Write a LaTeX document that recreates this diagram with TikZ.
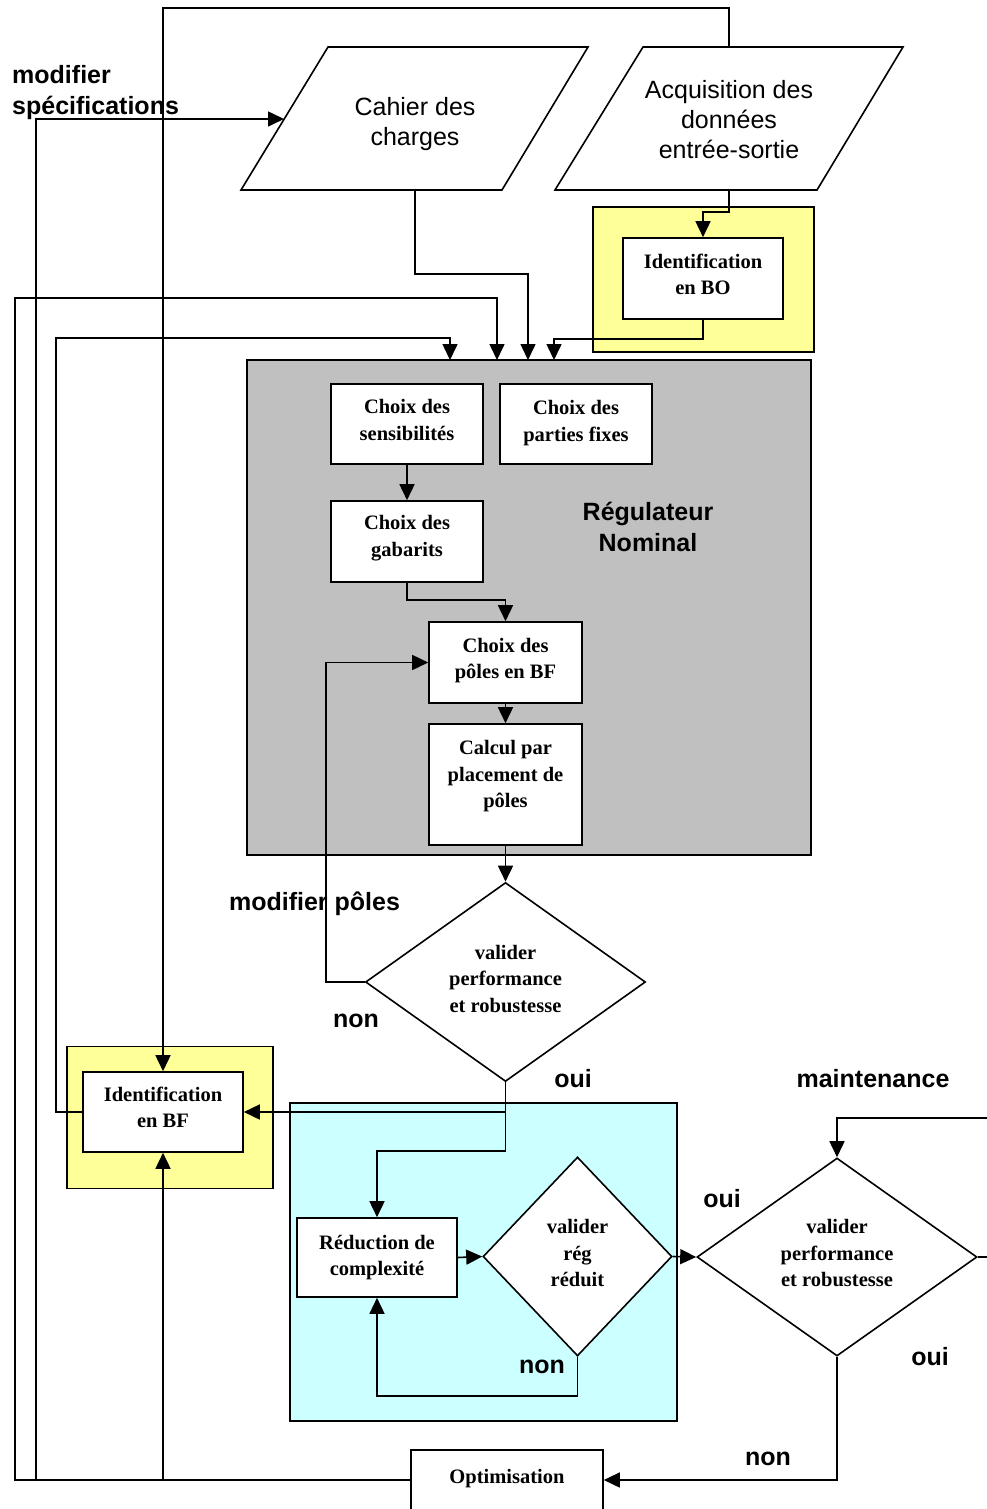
\documentclass[tikz,border=0pt]{standalone}
\usepackage{fontspec}
\setmainfont{Liberation Serif}
\setsansfont{Liberation Sans}
\usetikzlibrary{arrows.meta,shapes.geometric}

\definecolor{regGray}{RGB}{192,192,192}
\definecolor{idYellow}{RGB}{255,255,153}
\definecolor{redCyan}{RGB}{204,255,255}

\tikzset{
  ln/.style={line width=1.6pt, line join=miter},
  arr/.style={ln, -{Triangle[length=16pt,width=15pt]}},
  zone/.style={draw, line width=1.6pt, rectangle, inner sep=0pt},
  box/.style={draw, line width=1.6pt, fill=white, rectangle, inner sep=0pt},
  diam/.style={draw, line width=1.6pt, fill=white, diamond, inner sep=0pt, aspect=1},
  dtext/.style={align=center, inner sep=0pt, font=\bfseries\fontsize{20.5}{26.5}\selectfont},
  ptext/.style={align=center, inner sep=0pt, font=\sffamily\fontsize{25}{30}\selectfont},
  lab/.style={inner sep=0pt, font=\sffamily\bfseries\fontsize{25}{31}\selectfont},
}

\begin{document}
\begin{tikzpicture}[x=1pt,y=-1pt]
\useasboundingbox (0,0) rectangle (986,1509);

% grouping zones
\node[zone, fill=regGray, minimum width=564, minimum height=495] (reg) at (529,607.5) {};
\node[zone, fill=idYellow, minimum width=221, minimum height=145] (zbo) at (703.5,279.5) {};
\node[zone, fill=idYellow, minimum width=206, minimum height=142] (zbf) at (170,1117.5) {};
\node[zone, fill=redCyan, minimum width=387, minimum height=318] (zred) at (483.5,1262) {};

\node[lab, anchor=north, align=center] (lreg) at (648,502) {Régulateur\\Nominal};

% input documents
\draw[ln, fill=white] (241,190) -- (328,47) -- (588,47) -- (502,190) -- cycle;
\node[ptext, anchor=north] (cahier) at (415,97) {Cahier des\\charges};
\draw[ln, fill=white] (555,190) -- (643,47) -- (903,47) -- (817,190) -- cycle;
\node[ptext, anchor=north] (acq) at (729,80) {Acquisition des\\données\\entrée-sortie};
\coordinate (cahB) at (415,190);
\coordinate (cahL) at (284,119);
\coordinate (acqB) at (729,190);
\coordinate (acqT) at (729,47);

% entries on top of the nominal controller block
\coordinate (inA) at (450,360);
\coordinate (inB) at (497,360);
\coordinate (inC) at (528,360);
\coordinate (inD) at (554,360);

% steps
\node[box, minimum width=160, minimum height=81,
  label={[dtext,yshift=4]center:{Identification\\en BO}}] (idbo) at (703,278.5) {};
\node[box, minimum width=152, minimum height=80,
  label={[dtext,yshift=4]center:{Choix des\\sensibilités}}] (sens) at (407,424) {};
\node[box, minimum width=152, minimum height=80,
  label={[dtext,yshift=1]center:{Choix des\\parties fixes}}] (fixes) at (576,424) {};
\node[box, minimum width=152, minimum height=81,
  label={[dtext,yshift=3.5]center:{Choix des\\gabarits}}] (gab) at (407,541.5) {};
\node[box, minimum width=153, minimum height=81,
  label={[dtext,yshift=2]center:{Choix des\\pôles en BF}}] (poles) at (505.5,662.5) {};
\node[box, minimum width=153, minimum height=121,
  label={[dtext,yshift=8]center:{Calcul par\\placement de\\pôles}}] (calc) at (505.5,784.5) {};
\node[box, minimum width=160, minimum height=80,
  label={[dtext,yshift=4.5]center:{Identification\\en BF}}] (idbf) at (163,1112) {};
\node[box, minimum width=160, minimum height=79,
  label={[dtext]center:{Réduction de\\complexité}}] (red) at (377,1257.5) {};
\node[box, minimum width=192, minimum height=60,
  label={[dtext,yshift=1]center:{Optimisation}}] (opt) at (507,1480) {};

% decisions
\node[diam, minimum width=280, minimum height=199,
  label={[dtext,yshift=3]center:{valider\\performance\\et robustesse}}] (v1) at (505.5,982) {};
\node[diam, minimum width=189, minimum height=199,
  label={[dtext,yshift=3.5]center:{valider\\rég\\réduit}}] (v2) at (577.5,1256.5) {};
\node[diam, minimum width=280, minimum height=198,
  label={[dtext,yshift=4]center:{valider\\performance\\et robustesse}}] (v3) at (837,1257) {};

% connectors
\draw[arr] (acqB) -- (729,212) -| (idbo.north);
\draw[arr] (idbo.south) -- (703,339) -| (inD);
\draw[arr] (cahB) -- (415,274) -| (inC);
\draw[arr] (acqT) -- (729,8) -| (idbf.north);
\draw[arr] (idbf.west) -| (56,338) -| (inA);
\draw[arr] (opt.west) -| (15,298) -| (inB);
\draw[arr] (36,1480) |- (cahL);
\draw[arr] (163,1480) -- (idbf.south);

\draw[arr] (sens.south) -- (gab.north);
\draw[arr] (gab.south) -- (407,600) -| (poles.north);
\draw[arr] (poles.south) -- (calc.north);
\draw[arr] (calc.south) -- (v1.north);
\draw[arr] (v1.west) -- (326,982) |- (poles.west);
\draw[arr] (v1.south) |- (idbf.east);
\draw[arr] (505.5,1111) -- (505.5,1151) -| (red.north);
\draw[arr] (red.east) -- (v2.west);
\draw[arr] (v2.south) -- (577.5,1396) -| (red.south);
\draw[arr] (v2.east) -- (v3.west);
\draw[ln] (v3.east) -- (992,1257);
\draw[arr] (992,1118) -| (v3.north);
\draw[arr] (v3.south) |- (opt.east);

% branch labels
\node[lab, anchor=north west, align=left] (lspec) at (12,65) {modifier\\spécifications};
\node[lab, anchor=base] (lmp) at (314.5,910) {modifier pôles};
\node[lab, anchor=base] (lnon1) at (356,1027) {non};
\node[lab, anchor=base] (loui1) at (573,1087) {oui};
\node[lab, anchor=base] (lmaint) at (873,1087) {maintenance};
\node[lab, anchor=base] (loui2) at (722,1207) {oui};
\node[lab, anchor=base] (lnon2) at (542,1373) {non};
\node[lab, anchor=base] (loui3) at (930,1365) {oui};
\node[lab, anchor=base] (lnon3) at (768,1465) {non};
\end{tikzpicture}
\end{document}
